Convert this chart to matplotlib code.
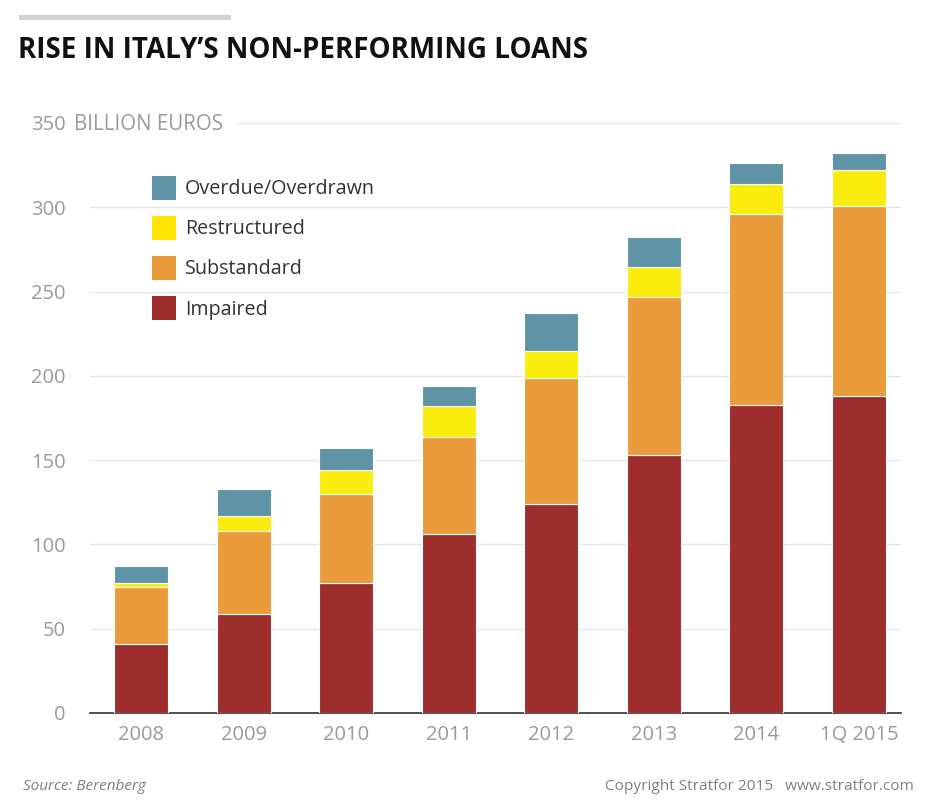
import matplotlib
matplotlib.use("Agg")
import matplotlib.pyplot as plt
import numpy as np
from matplotlib.patches import Rectangle

years = ["2008", "2009", "2010", "2011", "2012", "2013", "2014", "1Q 2015"]
impaired = [41, 58.5, 77, 106, 124, 153, 183, 188]
substandard = [33.5, 49.5, 53, 58, 75, 94, 113, 113]
restructured = [2.5, 9, 14, 18, 16, 17.5, 18, 21]
overdue = [10, 16, 13, 12, 22, 18, 12, 10.5]
series_names = ["Impaired", "Substandard", "Restructured", "Overdue/Overdrawn"]
colors = ["#9e2d2d", "#ea9b3c", "#faec0c", "#5f93a6"]
legend_colors = ["#9e2d2d", "#ea9b3c", "#ffe600", "#5f93a6"]
yticks = [0, 50, 100, 150, 200, 250, 300, 350]

W, H = 940, 802
fig = plt.figure(figsize=(W / 100, H / 100), dpi=100, facecolor="white")
plt.rcParams["font.family"] = ["Open Sans", "DejaVu Sans"]

# axes: y=0 at px 713, y=350 at px 123; x from 90 to 901
ax = fig.add_axes([90 / W, 1 - 713 / H, (901 - 90) / W, (713 - 123) / H])
ax.set_ylim(0, 350)
ax.set_xlim(-0.497, 7.41)
x = np.arange(len(years))
bottom = np.zeros(len(years))
for vals, c in zip([impaired, substandard, restructured, overdue], colors):
    ax.bar(x, vals, width=0.526, bottom=bottom, color=c, edgecolor="white", linewidth=0.8, zorder=3)
    bottom += np.array(vals)

for s in ["top", "right", "left"]:
    ax.spines[s].set_visible(False)
ax.spines["bottom"].set_color("#333333")
ax.spines["bottom"].set_linewidth(1.2)
ax.set_yticks(yticks)
ax.set_xticks(x, years)
ax.tick_params(axis="both", length=0, labelsize=14.5, labelcolor="#9a9a9a")
ax.tick_params(axis="x", pad=8.5)
ax.tick_params(axis="y", pad=17.5)
ax.grid(axis="y", color="#e6e6e6", linewidth=1, zorder=0)
ax.set_axisbelow(True)

# mask gridline behind the unit label (px 90 to 237)
fig.patches.append(Rectangle((66 / W, 1 - 133 / H), (237 - 66) / W, 20 / H, transform=fig.transFigure, facecolor="white", edgecolor="none", zorder=1.5))
ax.patch.set_visible(False)
ax.set_zorder(1)
fig.text(74 / W, 1 - 124 / H, "BILLION EUROS", fontsize=14.8, color="#9a9a9a", va="center", ha="left", zorder=5)

# title block
fig.patches.append(Rectangle((19 / W, 1 - 20 / H), 212 / W, 5 / H, transform=fig.transFigure, facecolor="#d2d2d2", edgecolor="none"))
fig.text(18 / W, 1 - 50 / H, "RISE IN ITALY\u2019S NON-PERFORMING LOANS", fontsize=20, fontweight="bold", color="#111111", va="center", ha="left")

# legend
leg_y = [308, 268, 228, 188]
for name, c, py in zip(series_names, legend_colors, leg_y):
    fig.patches.append(Rectangle((152 / W, 1 - (py + 12) / H), 24 / W, 24 / H, transform=fig.transFigure, facecolor=c, edgecolor="none"))
    fig.text(185 / W, 1 - (py + 1.5) / H, name, fontsize=14.2, color="#333333", va="center", ha="left")

fig.text(23 / W, 1 - 787 / H, "Source: Berenberg", fontsize=11, style="italic", color="#808080", va="center", ha="left")
fig.text(914 / W, 1 - 787 / H, "Copyright Stratfor 2015   www.stratfor.com", fontsize=11.1, color="#808080", va="center", ha="right")

fig.savefig("out.png", dpi=100, facecolor="white")
